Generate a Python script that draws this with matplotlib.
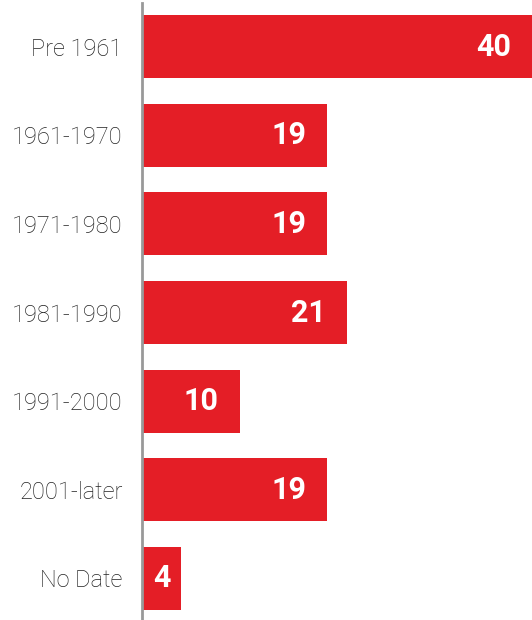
import numpy as np
import matplotlib.pyplot as plt

categories = ["Pre 1961", "1961-1970", "1971-1980", "1981-1990", "1991-2000", "2001-later", "No Date"]
values = [40, 19, 19, 21, 10, 19, 4]

red = "#E41E26"

fig = plt.figure(figsize=(5.32, 6.2), dpi=100)
ax = fig.add_axes([142 / 532, -2.5 / 620, 390 / 532, 1])

y = np.arange(len(categories))
ax.barh(y, values, height=0.71, color=red, zorder=2)
ax.set_xlim(0, 40)
ax.set_ylim(len(categories) - 0.5, -0.5)

ax.set_yticks(y)
ax.set_yticklabels(categories, fontfamily="Roboto", fontweight="light", fontsize=17, color="#222222")
ax.tick_params(axis="y", length=0, pad=14)
ax.set_xticks([])

for s in ["top", "right", "bottom"]:
    ax.spines[s].set_visible(False)
ax.spines["left"].set_color("#999999")
ax.spines["left"].set_linewidth(2)
ax.spines["left"].set_zorder(3)

# value labels, right aligned inside bars (centered if bar too short)
for yi, v in zip(y, values):
    if v >= 8:
        ax.annotate(str(v), (v, yi), xytext=(-15, 0), textcoords="offset points",
                    ha="right", va="center", color="white", fontfamily="Roboto",
                    fontweight="bold", fontsize=22)
    else:
        ax.text(v / 2, yi, str(v), ha="center", va="center", color="white",
                fontfamily="Roboto", fontweight="bold", fontsize=22)

fig.savefig("out.png", dpi=100)
